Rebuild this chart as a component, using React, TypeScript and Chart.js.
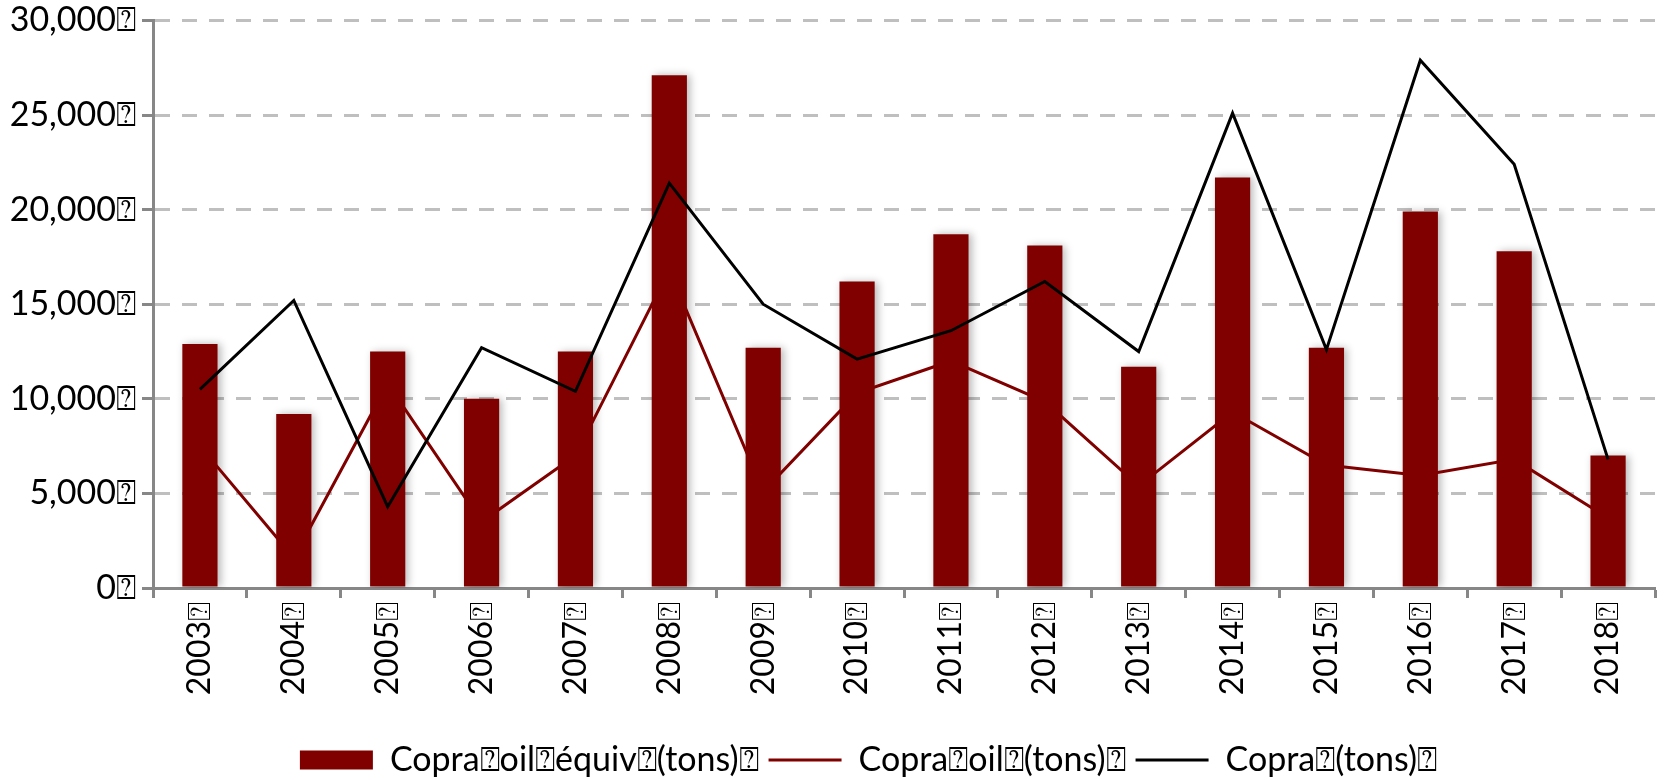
import React, { useEffect, useRef } from "react";
import { Chart, registerables } from "chart.js";

Chart.register(...registerables);

const yearLabels = ["2003⍰", "2004⍰", "2005⍰", "2006⍰", "2007⍰", "2008⍰", "2009⍰", "2010⍰", "2011⍰", "2012⍰", "2013⍰", "2014⍰", "2015⍰", "2016⍰", "2017⍰", "2018⍰"];
const copraOilEquiv = [12900, 9200, 12500, 10000, 12500, 27100, 12700, 16200, 18700, 18100, 11700, 21700, 12700, 19900, 17800, 7000];
const copraOil = [7500, 1600, 10800, 3500, 7000, 16800, 5100, 10300, 12000, 9850, 5400, 9300, 6500, 5950, 6800, 3700];
const copra = [10500, 15200, 4300, 12700, 10400, 21400, 15000, 12100, 13600, 16200, 12500, 25100, 12600, 27900, 22400, 6800];
const seriesNames = ["Copra⍰oil⍰équiv⍰(tons)⍰", "Copra⍰oil⍰(tons)⍰", "Copra⍰(tons)⍰"];

const FONT = "Lato, 'Noto Sans', sans-serif";

const shadowPlugin = {
  id: "barShadow",
  beforeDatasetDraw(chart: any, args: any) {
    if (args.meta.type !== "bar") return;
    const ctx = chart.ctx;
    ctx.save();
    ctx.shadowColor = "rgba(0,0,0,0.28)";
    ctx.shadowBlur = 8;
    ctx.shadowOffsetX = 3;
    ctx.shadowOffsetY = 0;
  },
  afterDatasetDraw(chart: any, args: any) {
    if (args.meta.type !== "bar") return;
    chart.ctx.restore();
  },
};

const legendShiftPlugin = {
  id: "legendShift",
  afterLayout(chart: any) {
    if (chart.legend) {
      chart.legend.left += 41;
      chart.legend.right += 41;
    }
  },
};

export default function App() {
  const ref = useRef<HTMLCanvasElement | null>(null);
  useEffect(() => {
    if (!ref.current) return;
    const chart = new Chart(ref.current, {
      type: "bar",
      data: {
        labels: yearLabels,
        datasets: [
          {
            type: "bar",
            label: seriesNames[0],
            data: copraOilEquiv,
            backgroundColor: "#800000",
            borderWidth: 0,
            barPercentage: 0.375,
            categoryPercentage: 1,
            order: 3,
          },
          {
            type: "line",
            label: seriesNames[1],
            data: copraOil,
            borderColor: "#800000",
            backgroundColor: "#800000",
            borderWidth: 3,
            pointRadius: 0,
            tension: 0,
            order: 2,
          },
          {
            type: "line",
            label: seriesNames[2],
            data: copra,
            borderColor: "#000000",
            backgroundColor: "#000000",
            borderWidth: 3,
            pointRadius: 0,
            tension: 0,
            order: 1,
          },
        ] as any,
      },
      options: {
        animation: false,
        responsive: false,
        maintainAspectRatio: false,
        layout: { padding: { top: 0, right: 14, left: 0, bottom: -7 } },
        plugins: {
          tooltip: { enabled: false },
          legend: {
            position: "bottom",
            labels: {
              usePointStyle: true,
              pointStyleWidth: 73,
              boxHeight: 19,
              padding: 10,
              color: "#000",
              font: { family: FONT, size: 34 },
              generateLabels: (c: any) => {
                const items = Chart.defaults.plugins.legend.labels.generateLabels(c);
                items.forEach((it: any) => {
                  const ds: any = c.data.datasets[it.datasetIndex];
                  it.pointStyle = ds.type === "bar" ? "rect" : "line";
                  it.strokeStyle = ds.borderColor;
                  it.fillStyle = ds.backgroundColor;
                });
                return items.sort((a: any, b: any) => a.datasetIndex - b.datasetIndex);
              },
            },
          },
        },
        scales: {
          x: {
            offset: true,
            afterFit: (scale: any) => {
              scale.height = 145;
            },
            grid: {
              offset: true,
              drawOnChartArea: false,
              drawTicks: true,
              tickLength: 10,
              tickColor: "#878787",
              tickWidth: 3,
            },
            border: { display: true, color: "#878787", width: 3 },
            ticks: {
              minRotation: 90,
              maxRotation: 90,
              padding: 4,
              color: "#000",
              font: { family: FONT, size: 32 },
            },
          },
          y: {
            min: 0,
            max: 30000,
            afterFit: (scale: any) => {
              scale.width = 153;
            },
            grid: {
              color: "#BFBFBF",
              lineWidth: 3,
              tickColor: "#878787",
              tickWidth: 3,
              tickLength: 11,
              tickBorderDash: [],
            },
            border: { display: true, color: "#878787", width: 3, dash: [15, 12] },
            ticks: {
              stepSize: 5000,
              padding: 6,
              color: "#000",
              font: { family: FONT, size: 34, lineHeight: 0.85 },
              callback: (v: any) => Number(v).toLocaleString("en-US") + "⍰",
            },
          },
        },
      },
      plugins: [shadowPlugin, legendShiftPlugin],
    });
    return () => chart.destroy();
  }, []);
  return (
    <div style={{ position: "absolute", left: 0, top: 0, width: 1669, height: 780, background: "#fff" }}>
      <canvas ref={ref} width={1669} height={780} style={{ width: 1669, height: 780 }} />
    </div>
  );
}
